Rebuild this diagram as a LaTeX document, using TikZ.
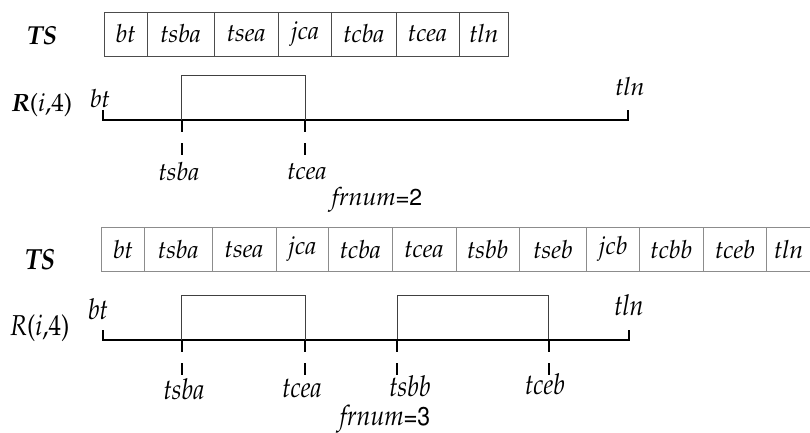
\documentclass[tikz,border=0pt]{standalone}
\usepackage[T1]{fontenc}
\usepackage{mathpazo}
\usepackage[scaled=0.92]{helvet}
\begin{document}
\begin{tikzpicture}[x=1pt,y=-1pt,
  lab/.style={font=\fontsize{25}{28}\selectfont\itshape, inner sep=0pt},
  celltop/.style={draw=black!70, line width=1pt},
  cellbot/.style={draw=black!45, line width=1pt},
  axis/.style={line width=1.7pt, line cap=butt},
  pulse/.style={draw=black!75, line width=0.9pt},
  tick/.style={line width=1.7pt, dash pattern=on 12pt off 11pt on 12pt off 200pt},
  endtick/.style={line width=1.7pt}]
\useasboundingbox (0,0) rectangle (810,432);

% ---------- top table ----------
\def\xs{104.3/147/bt,147/214.3/tsba,214.3/278.3/tsea,278.3/331.7/jca,331.7/396/tcba,396/459.3/tcea,459.3/508.7/tln}
\foreach \a/\b/\t [count=\i] in \xs {
  \node[celltop, minimum width={(\b-\a)*1pt}, minimum height=44pt, inner sep=0pt,
        lab] (ta\i) at ({(\a+\b)/2},34) {\t};
}
\node[lab, font=\fontsize{26}{28}\selectfont\bfseries\itshape] (tslab1) at (42,35) {TS};
\node[lab, font=\fontsize{25}{28}\selectfont] (rlab1) at (42,105) {\textbf{\textit{R}}(\textit{i},4)};

% ---------- top timeline ----------
\coordinate (a0) at (103.3,120);
\coordinate (a1) at (181.7,120);
\coordinate (a2) at (305,120);
\coordinate (a3) at (628.3,120);
\coordinate (a0t) at (103.3,110);
\coordinate (a3t) at (628.3,110);
\coordinate (a1t) at (181.7,75);
\coordinate (a2t) at (305,75);
\coordinate (a1d) at (181.7,160);
\coordinate (a2d) at (305,160);
\draw[axis] (a0t) -- (a0) -- (a3) -- (a3t);
\draw[pulse] (a1) -- (a1t) -- (a2t) -- (a2);
\draw[line width=2.4pt] (a1) -- (a2);
\draw[tick] (a1) -- (a1d);
\draw[tick] (a2) -- (a2d);
\node[lab] (bt1) at (100,99) {bt};
\node[lab] (tln1) at (630,87) {tln};
\node[lab] (tsba1) at (179,172) {tsba};
\node[lab] (tcea1) at (307,172) {tcea};
\node[lab] (fr1) at (377,200) {frnum\textup{\textsf{=2}}};

% ---------- bottom table ----------
\def\xb{101.7/144.3/bt,144.3/212.3/tsba,212.3/276/tsea,276/328.7/jca,328.7/392/tcba,392/456/tcea,456/519.3/tsbb,519.3/586.7/tseb,586.7/639.3/jcb,639.3/703.3/tcbb,703.3/766.7/tceb,766.7/810.5/tln}
\foreach \a/\b/\t [count=\i] in \xb {
  \node[cellbot, minimum width={(\b-\a)*1pt}, minimum height=43.7pt, inner sep=0pt,
        lab] (tb\i) at ({(\a+\b)/2},249.2) {\t};
}
\node[lab, font=\fontsize{26}{28}\selectfont\bfseries\itshape] (tslab2) at (40,259) {\scalebox{1}[1.12]{TS}};
\node[lab, font=\fontsize{25}{28}\selectfont] (rlab2) at (40,328) {\scalebox{1}[1.15]{\textit{R}(\textit{i},4)}};

% ---------- bottom timeline ----------
\coordinate (b0) at (103.3,340);
\coordinate (b1) at (181.7,340);
\coordinate (b2) at (305,340);
\coordinate (b3) at (397,340);
\coordinate (b4) at (548.7,340);
\coordinate (b5) at (628.7,340);
\coordinate (b0t) at (103.3,330);
\coordinate (b5t) at (628.7,330);
\coordinate (b1t) at (181.7,295.3);
\coordinate (b2t) at (305,295.3);
\coordinate (b3t) at (397,295.3);
\coordinate (b4t) at (548.7,295.3);
\coordinate (b1d) at (181.7,380);
\coordinate (b2d) at (305,380);
\coordinate (b3d) at (397,380);
\coordinate (b4d) at (548.7,380);
\draw[axis] (b0t) -- (b0) -- (b5) -- (b5t);
\draw[pulse] (b1) -- (b1t) -- (b2t) -- (b2);
\draw[pulse] (b3) -- (b3t) -- (b4t) -- (b4);
\draw[line width=2.4pt] (b1) -- (b2);
\draw[line width=2.4pt] (b3) -- (b4);
\draw[tick] (b1) -- (b1d);
\draw[tick] (b2) -- (b2d);
\draw[tick] (b3) -- (b3d);
\draw[tick] (b4) -- (b4d);
\node[lab] (bt2) at (98,309) {\scalebox{1}[1.15]{bt}};
\node[lab] (tln2) at (629,305) {\scalebox{1}[1.15]{tln}};
\node[lab] (tsba2) at (184,389) {\scalebox{1}[1.15]{tsba}};
\node[lab] (tcea2) at (302,388) {\scalebox{1}[1.15]{tcea}};
\node[lab] (tsbb2) at (410,386) {\scalebox{1}[1.15]{tsbb}};
\node[lab] (tceb2) at (545,384) {\scalebox{1}[1.15]{tceb}};
\node[lab] (fr2) at (385,419) {\scalebox{1}[1.12]{frnum\textup{\textsf{=3}}}};
\end{tikzpicture}
\end{document}
